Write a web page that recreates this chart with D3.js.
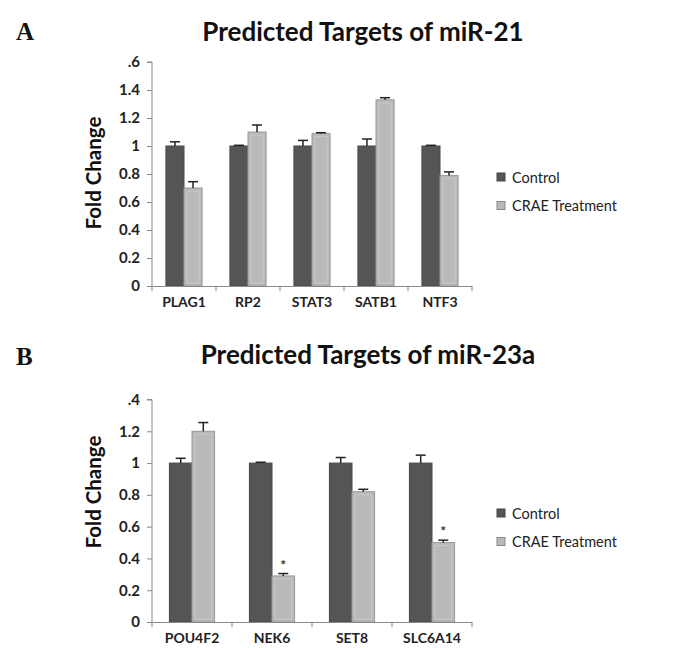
<!DOCTYPE html>
<html>
<head>
<meta charset="utf-8">
<script src="https://cdn.jsdelivr.net/npm/d3@7"></script>
<style>
  body { margin: 0; background: #fff; }
  svg { display: block; }
</style>
</head>
<body>
<svg id="chart" width="688" height="648"></svg>
<script>
// ---- Data ----
const seriesNames = ["Control", "CRAE Treatment"];

const catsA = ["PLAG1", "RP2", "STAT3", "SATB1", "NTF3"];
const controlA = [1.00, 1.00, 1.00, 1.00, 1.00];
const controlErrA = [0.03, 0.005, 0.04, 0.05, 0.005];
const treatA = [0.70, 1.10, 1.09, 1.33, 0.79];
const treatErrA = [0.045, 0.05, 0.005, 0.015, 0.025];
const starA = [false, false, false, false, false];
const ticksA = [0, 0.2, 0.4, 0.6, 0.8, 1.0, 1.2, 1.4, 1.6];
const tickLabelsA = ["0", "0.2", "0.4", "0.6", "0.8", "1", "1.2", "1.4", ".6"];

const catsB = ["POU4F2", "NEK6", "SET8", "SLC6A14"];
const controlB = [1.00, 1.00, 1.00, 1.00];
const controlErrB = [0.03, 0.005, 0.035, 0.05];
const treatB = [1.20, 0.29, 0.82, 0.50];
const treatErrB = [0.055, 0.015, 0.015, 0.015];
const starB = [false, true, false, true];
const ticksB = [0, 0.2, 0.4, 0.6, 0.8, 1.0, 1.2, 1.4];
const tickLabelsB = ["0", "0.2", "0.4", "0.6", "0.8", "1", "1.2", ".4"];

const svg = d3.select("#chart");
const colors = ["#555555", "#b9b9b9"];
const FONT = "Lato, 'Open Sans', sans-serif";

function panel(opt) {
  const g = svg.append("g");
  const x0 = d3.scaleBand().domain(opt.cats).range([opt.left, opt.right]).paddingInner(0).paddingOuter(0);
  const x1 = d3.scaleBand().domain(seriesNames).range([0, x0.bandwidth()]).paddingInner(0).paddingOuter(0.77);
  const y = d3.scaleLinear().domain([0, opt.ymax]).range([opt.bottom, opt.top]);

  // panel letter
  g.append("text").attr("x", 16).attr("y", opt.letterY)
    .attr("font-family", "'Liberation Serif', serif").attr("font-weight", "bold")
    .attr("font-size", 25).attr("fill", "#111").text(opt.letter);

  // title
  g.append("text").attr("x", opt.titleX).attr("y", opt.titleY).attr("text-anchor", "middle")
    .attr("font-family", FONT).attr("font-weight", "bold").attr("font-size", 26)
    .attr("fill", "#111").text(opt.title);

  // y axis
  const yAxis = d3.axisLeft(y).tickValues(opt.ticks).tickSize(5).tickPadding(7)
    .tickFormat((d, i) => opt.tickLabels[i]);
  const ya = g.append("g").attr("transform", `translate(${opt.left},0)`).call(yAxis);
  ya.select(".domain").attr("stroke", "#8a8a8a").attr("d", `M-5,${opt.top}H0V${opt.bottom}`);
  ya.selectAll(".tick line").attr("stroke", "#8a8a8a");
  ya.selectAll(".tick text").attr("font-family", FONT).attr("font-weight", "bold")
    .attr("font-size", 15).attr("fill", "#222");

  // y label
  g.append("text").attr("transform", `translate(${101},${opt.ylabY}) rotate(-90)`)
    .attr("text-anchor", "middle").attr("font-family", FONT).attr("font-weight", "bold")
    .attr("font-size", 20.5).attr("fill", "#111").text("Fold Change");

  // bars
  const data = opt.cats.map((c, i) => ({
    cat: c,
    vals: [
      { s: seriesNames[0], v: opt.control[i], e: opt.controlErr[i], star: false },
      { s: seriesNames[1], v: opt.treat[i], e: opt.treatErr[i], star: opt.star[i] }
    ]
  }));
  const groups = g.selectAll(".grp").data(data).join("g")
    .attr("transform", d => `translate(${x0(d.cat)},0)`);
  groups.selectAll("rect").data(d => d.vals).join("rect")
    .attr("x", d => x1(d.s)).attr("width", x1.bandwidth())
    .attr("y", d => y(d.v)).attr("height", d => y(0) - y(d.v))
    .attr("fill", (d, i) => colors[i])
    .attr("stroke", (d, i) => i === 0 ? "#4a4a4a" : "#9a9a9a").attr("stroke-width", 1);
  // inner highlight on treatment bars
  groups.selectAll(".hl").data(d => [d.vals[1]]).join("rect")
    .attr("x", d => x1(d.s) + 3).attr("width", x1.bandwidth() - 6)
    .attr("y", d => y(d.v) + 3).attr("height", d => Math.max(0, y(0) - y(d.v) - 6))
    .attr("fill", "none").attr("stroke", "#c8c8c8").attr("stroke-width", 1);
  // error bars
  const eb = groups.selectAll(".err").data(d => d.vals).join("g");
  eb.append("line")
    .attr("x1", d => x1(d.s) + x1.bandwidth() / 2).attr("x2", d => x1(d.s) + x1.bandwidth() / 2)
    .attr("y1", d => y(d.v)).attr("y2", d => y(d.v + d.e))
    .attr("stroke", "#222").attr("stroke-width", 1.5);
  eb.append("line")
    .attr("x1", d => x1(d.s) + x1.bandwidth() / 2 - 5).attr("x2", d => x1(d.s) + x1.bandwidth() / 2 + 5)
    .attr("y1", d => y(d.v + d.e)).attr("y2", d => y(d.v + d.e))
    .attr("stroke", "#222").attr("stroke-width", 1.5);
  eb.filter(d => d.star).append("text")
    .attr("x", d => x1(d.s) + x1.bandwidth() / 2).attr("y", d => y(d.v + d.e) - 4)
    .attr("text-anchor", "middle").attr("font-family", FONT).attr("font-weight", "bold")
    .attr("font-size", 14).attr("fill", "#333").text("*");

  // x axis
  const xa = g.append("g").attr("transform", `translate(0,${opt.bottom})`)
    .call(d3.axisBottom(x0).tickSize(0).tickPadding(11));
  xa.select(".domain").attr("stroke", "#8a8a8a");
  xa.selectAll(".tick text").attr("font-family", FONT).attr("font-weight", "bold")
    .attr("font-size", 14).attr("fill", "#222");
  // boundary tick marks
  const bounds = opt.cats.map(c => x0(c)).concat([opt.right]);
  xa.selectAll(".btick").data(bounds).join("line")
    .attr("x1", d => d).attr("x2", d => d).attr("y1", 0).attr("y2", 5)
    .attr("stroke", "#8a8a8a");

  // legend
  const lg = g.append("g");
  seriesNames.forEach((s, i) => {
    const ly = opt.legendY + i * 28.5;
    lg.append("rect").attr("x", 497).attr("y", ly - 4.5).attr("width", 8).attr("height", 8)
      .attr("fill", colors[i]).attr("stroke", i === 0 ? "#444" : "#888");
    lg.append("text").attr("x", 512).attr("y", ly).attr("dy", "0.35em")
      .attr("font-family", FONT).attr("font-size", 14.5).attr("fill", "#222").text(s);
  });
}

panel({
  letter: "A", letterY: 40, title: "Predicted Targets of miR-21", titleX: 363, titleY: 41,
  cats: catsA, control: controlA, controlErr: controlErrA, treat: treatA, treatErr: treatErrA,
  star: starA, ticks: ticksA, tickLabels: tickLabelsA, ymax: 1.6,
  left: 152, right: 472, top: 62, bottom: 286, ylabY: 173, legendY: 177.5
});
panel({
  letter: "B", letterY: 365, title: "Predicted Targets of miR-23a", titleX: 368, titleY: 364,
  cats: catsB, control: controlB, controlErr: controlErrB, treat: treatB, treatErr: treatErrB,
  star: starB, ticks: ticksB, tickLabels: tickLabelsB, ymax: 1.4,
  left: 152, right: 472, top: 399.5, bottom: 622, ylabY: 492, legendY: 513.5
});
</script>
</body>
</html>
